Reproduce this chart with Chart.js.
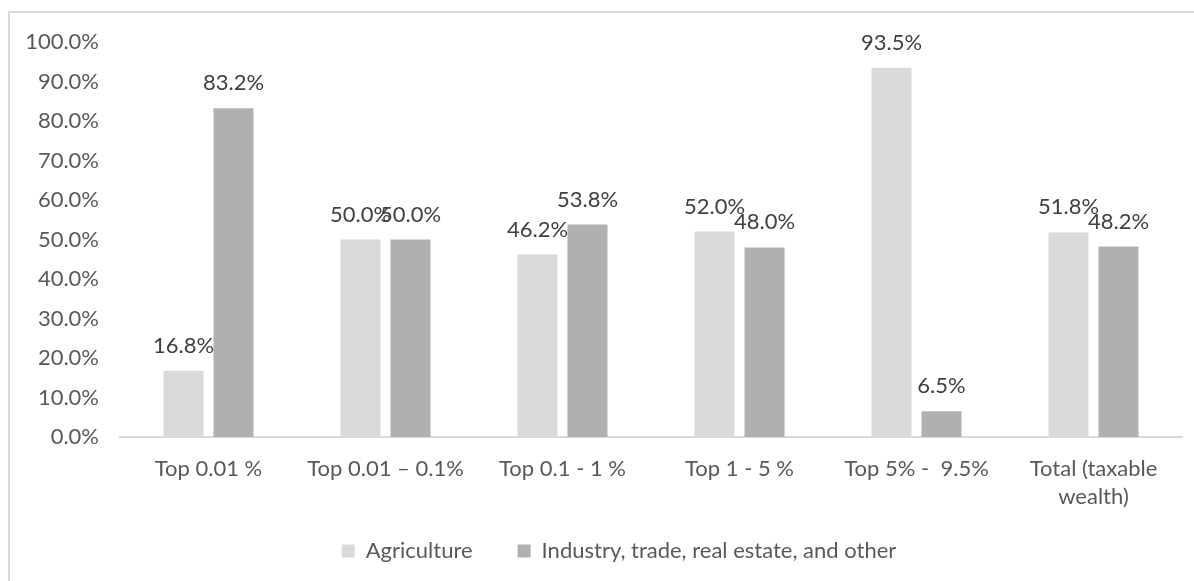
<!DOCTYPE html>
<html>
<head>
<meta charset="utf-8">
<script src="https://cdn.jsdelivr.net/npm/chart.js@4"></script>
<style>
  html, body { margin: 0; padding: 0; background: #fff; overflow: hidden; }
  #wrap { position: relative; width: 1194px; height: 581px; }
  #frame { position: absolute; left: 8px; top: 11px; width: 1300px; height: 700px; border: 2px solid #d9d9d9; box-sizing: border-box; }
  canvas { position: absolute; left: 0; top: 0; }
</style>
</head>
<body>
<div id="wrap">
  <div id="frame"></div>
  <canvas id="c" width="1194" height="581"></canvas>
</div>
<script>
const categories = ['Top 0.01 %', 'Top 0.01 \u2013 0.1%', 'Top 0.1 - 1 %', 'Top 1 - 5 %', 'Top 5% -  9.5%', ['Total (taxable', 'wealth)']];
const agriculture = [16.8, 50.0, 46.2, 52.0, 93.5, 51.8];
const industry = [83.2, 50.0, 53.8, 48.0, 6.5, 48.2];
const seriesNames = ['Agriculture', 'Industry, trade, real estate, and other'];
const yTicks = { min: 0, max: 100, step: 10 };

const FONT = 'Lato';
const FS = 22;
const PAD_LEFT = 56;

const valueLabels = {
  id: 'valueLabels',
  afterDatasetsDraw(chart) {
    const ctx = chart.ctx;
    ctx.save();
    ctx.font = FS + 'px ' + FONT;
    ctx.fillStyle = '#404040';
    ctx.textAlign = 'center';
    ctx.textBaseline = 'middle';
    chart.data.datasets.forEach((ds, di) => {
      const meta = chart.getDatasetMeta(di);
      meta.data.forEach((bar, i) => {
        ctx.fillText(ds.data[i].toFixed(1) + '%', bar.x, bar.y - 25);
      });
    });
    ctx.restore();
  }
};

function noLabelClip(scale) { scale._computeLabelArea = () => undefined; }

new Chart(document.getElementById('c'), {
  type: 'bar',
  data: {
    labels: categories,
    datasets: [
      { label: seriesNames[0], data: agriculture, backgroundColor: '#dadada', categoryPercentage: 0.565, barPercentage: 0.8 },
      { label: seriesNames[1], data: industry, backgroundColor: '#b0b0b0', categoryPercentage: 0.565, barPercentage: 0.8 }
    ]
  },
  options: {
    responsive: false,
    animation: false,
    layout: { padding: { left: PAD_LEFT, right: 12, top: 42, bottom: 9 } },
    plugins: {
      tooltip: { enabled: false },
      legend: {
        position: 'bottom',
        labels: { font: { family: FONT, size: FS }, color: '#595959', boxWidth: 13, boxHeight: 13, padding: 45 }
      }
    },
    scales: {
      x: {
        grid: { display: false, drawTicks: false },
        border: { display: true, color: '#d9d9d9', width: 2 },
        ticks: { font: { family: FONT, size: FS, lineHeight: 1.27 }, color: '#595959', padding: 18, maxRotation: 0, autoSkip: false },
        afterFit(scale) { scale.height = 58; noLabelClip(scale); }
      },
      y: {
        min: yTicks.min, max: yTicks.max,
        grid: { display: false, drawTicks: false },
        border: { display: false },
        ticks: { stepSize: yTicks.step, font: { family: FONT, size: FS }, color: '#595959', padding: 21,
          callback: v => v.toFixed(1) + '%' },
        afterFit(scale) { scale.width = 120 - PAD_LEFT; noLabelClip(scale); }
      }
    }
  },
  plugins: [valueLabels]
});
</script>
</body>
</html>
